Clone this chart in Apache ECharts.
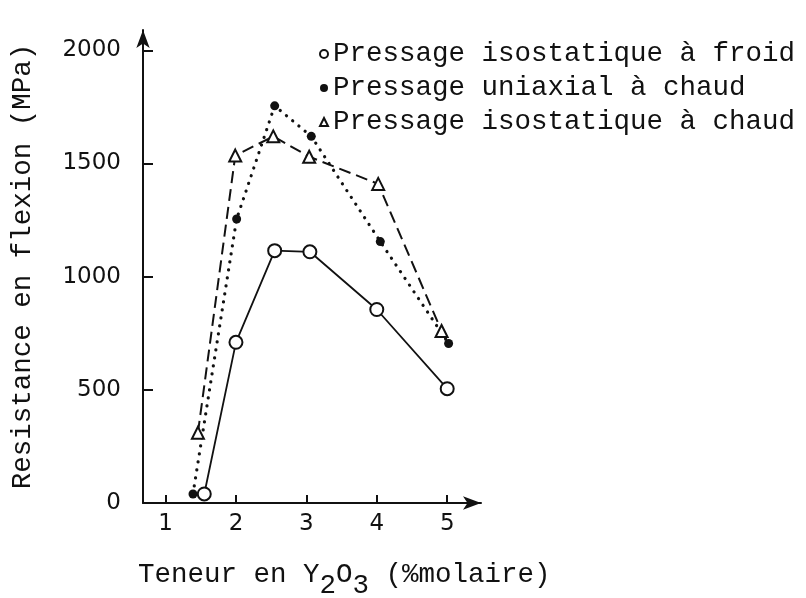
<!DOCTYPE html>
<html>
<head>
<meta charset="utf-8">
<script src="https://cdn.jsdelivr.net/npm/echarts@6/dist/echarts.min.js"></script>
<style>
  html, body { margin: 0; padding: 0; background: #fff; }
  #chart { width: 806px; height: 598px; }
</style>
</head>
<body>
<div id="chart"></div>
<script>
// Flexural strength vs Y2O3 content for three pressing routes
const xTicks = [1, 2, 3, 4, 5];
const yTicks = [0, 500, 1000, 1500, 2000];

const seriesNames = [
  'Pressage isostatique à froid',
  'Pressage uniaxial à chaud',
  'Pressage isostatique à chaud'
];

const froidX = [1.55, 2.0, 2.55, 3.05, 4.0, 5.0];
const froidY = [40, 710, 1115, 1110, 855, 505];

const uniaxialX = [1.39, 2.01, 2.55, 3.07, 4.05, 5.02];
const uniaxialY = [40, 1255, 1755, 1620, 1155, 705];

const isoChaudX = [1.46, 1.99, 2.53, 3.04, 4.02, 4.92];
const isoChaudY = [310, 1535, 1620, 1530, 1410, 760];

const pairs = (xs, ys) => xs.map((x, i) => [x, ys[i]]);

const mono = 'Liberation Mono';
const ink = '#111';
const textSize = 27.5;

const chart = echarts.init(document.getElementById('chart'), null, { renderer: 'canvas' });

chart.setOption({
  backgroundColor: '#fff',
  animation: false,
  grid: { left: 143, right: 325, top: 30, bottom: 95 },
  legend: {
    orient: 'vertical',
    left: 314,
    top: 35,
    itemWidth: 8,
    itemHeight: 8,
    itemGap: 6,
    textStyle: { fontFamily: mono, fontSize: textSize, color: ink, lineHeight: 27 },
    data: [
      { name: seriesNames[0], icon: 'circle', itemStyle: { color: '#fff', borderColor: ink, borderWidth: 2 } },
      { name: seriesNames[1], icon: 'circle', itemStyle: { color: ink, borderColor: ink, borderWidth: 0 } },
      { name: seriesNames[2], icon: 'triangle', itemStyle: { color: '#fff', borderColor: ink, borderWidth: 2 } }
    ]
  },
  xAxis: {
    type: 'value',
    min: 0.68,
    max: 5.48,
    axisLine: { show: true, symbol: ['none', 'arrow'], symbolSize: [10, 18], lineStyle: { color: ink, width: 2 } },
    axisTick: { show: true, inside: true, length: 8, customValues: xTicks, lineStyle: { color: ink, width: 2 } },
    axisLabel: { customValues: xTicks, margin: 10, fontFamily: 'DejaVu Sans', fontSize: 23, color: ink },
    splitLine: { show: false }
  },
  yAxis: {
    type: 'value',
    min: 0,
    max: 2090,
    name: 'Resistance en flexion (MPa)',
    nameLocation: 'middle',
    nameGap: 106,
    nameRotate: 90,
    nameTextStyle: { fontFamily: mono, fontSize: textSize, color: ink },
    axisLine: { show: true, symbol: ['none', 'arrow'], symbolSize: [10, 18], lineStyle: { color: ink, width: 2 } },
    axisTick: { show: true, inside: true, length: 10, customValues: yTicks, lineStyle: { color: ink, width: 2 } },
    axisLabel: {
      customValues: yTicks,
      margin: 22,
      fontFamily: 'DejaVu Sans',
      fontSize: 23,
      color: ink,
      formatter: (v) => String(v)
    },
    splitLine: { show: false }
  },
  graphic: [{
    type: 'text',
    left: 138,
    top: 561,
    style: {
      text: 'Teneur en Y{sub|2}O{sub|3} (%molaire)',
      font: textSize + 'px "Liberation Mono"',
      fill: ink,
      rich: {
        sub: { fontFamily: mono, fontSize: textSize, fill: ink, padding: [22, 0, 0, 0] }
      }
    }
  }],
  series: [
    {
      name: seriesNames[0],
      type: 'line',
      data: pairs(froidX, froidY),
      symbol: 'circle',
      symbolSize: 13,
      itemStyle: { color: '#fff', borderColor: ink, borderWidth: 2 },
      lineStyle: { color: ink, width: 1.8, type: 'solid' },
      z: 3
    },
    {
      name: seriesNames[1],
      type: 'line',
      data: pairs(uniaxialX, uniaxialY),
      symbol: 'circle',
      symbolSize: 9,
      itemStyle: { color: ink, borderColor: ink, borderWidth: 0 },
      lineStyle: { color: ink, width: 3.2, type: [0.1, 8], cap: 'round' },
      z: 2
    },
    {
      name: seriesNames[2],
      type: 'line',
      data: pairs(isoChaudX, isoChaudY),
      symbol: 'triangle',
      symbolSize: 12,
      itemStyle: { color: '#fff', borderColor: ink, borderWidth: 2 },
      lineStyle: { color: ink, width: 2, type: [12, 6] },
      z: 4
    }
  ]
});
</script>
</body>
</html>
